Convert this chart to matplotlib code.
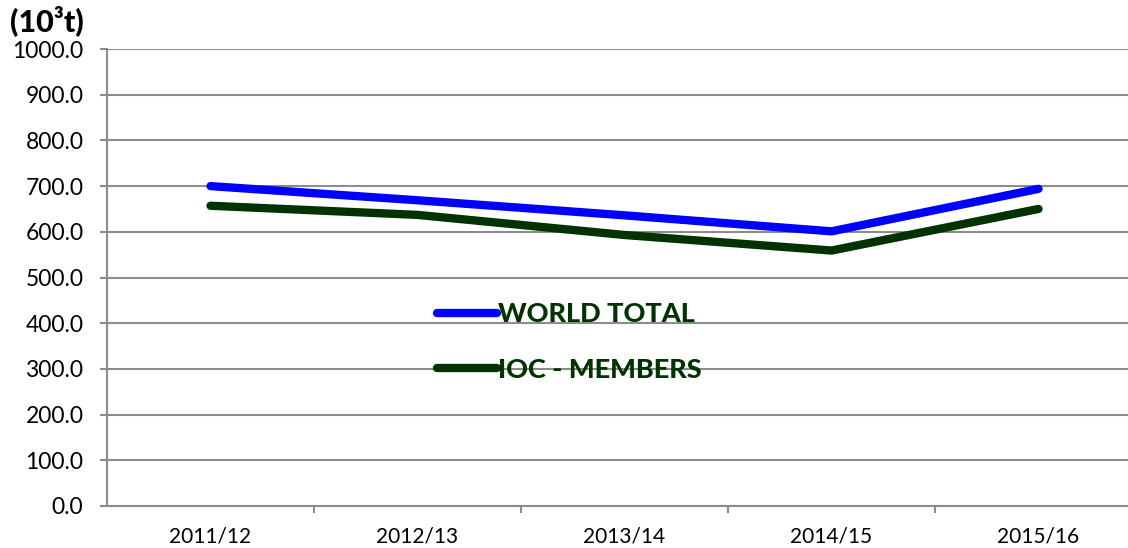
import matplotlib
matplotlib.use("Agg")
import matplotlib.pyplot as plt
import numpy as np

plt.rcParams['font.family'] = ['Lato', 'DejaVu Sans']

seasons = ["2011/12", "2012/13", "2013/14", "2014/15", "2015/16"]
world_total = [700.0, 669.0, 636.0, 601.0, 694.0]
ioc_members = [657.0, 637.0, 593.0, 559.0, 650.0]
y_ticks = np.arange(0, 1001, 100)

fig = plt.figure(figsize=(11.28, 5.48), dpi=100)
# plot area runs a little past the right edge of the figure
ax = fig.add_axes([107 / 1128, 42 / 548, 1035 / 1128, 457 / 548])

x = np.arange(len(seasons))
ax.plot(x, world_total, color='#0000ff', lw=6, solid_capstyle='round',
        solid_joinstyle='miter', label='WORLD TOTAL', zorder=3)
ax.plot(x, ioc_members, color='#003300', lw=6, solid_capstyle='round',
        solid_joinstyle='miter', label='IOC - MEMBERS', zorder=3)

ax.set_xlim(-0.5, len(seasons) - 0.5)
ax.set_ylim(0, 1000)
ax.set_yticks(y_ticks)
ax.set_yticklabels([f"{v:.1f}" for v in y_ticks])
ax.yaxis.grid(True, color='#8c8c8c', lw=1.5)
ax.set_axisbelow(True)

ax.set_xticks(x)
ax.set_xticklabels(seasons)
ax.set_xticks(np.arange(0.5, len(seasons) - 0.5, 1), minor=True)
ax.tick_params(axis='x', which='major', length=0, pad=15, labelsize=15)
ax.tick_params(axis='x', which='minor', length=5, width=1.5, color='#8c8c8c', direction='out')
ax.tick_params(axis='y', length=5, width=1.5, color='#8c8c8c', pad=12, labelsize=16.5)

for side in ['top', 'right']:
    ax.spines[side].set_visible(False)
for side in ['left', 'bottom']:
    ax.spines[side].set_color('#8c8c8c')
    ax.spines[side].set_linewidth(1.5)

leg = fig.legend(loc='upper left', bbox_to_anchor=(437 / 1128, 1 - 302 / 548),
                 frameon=False, handlelength=2.2, handletextpad=0.05,
                 labelspacing=1.17, borderpad=0, borderaxespad=0,
                 prop={'size': 19.5, 'weight': 'black'}, labelcolor='#003300')

fig.text(10 / 1128, 1 - 21 / 548, "(10³t)", fontsize=22, fontweight='black',
         va='center', ha='left')

fig.savefig("out.png", dpi=100)
